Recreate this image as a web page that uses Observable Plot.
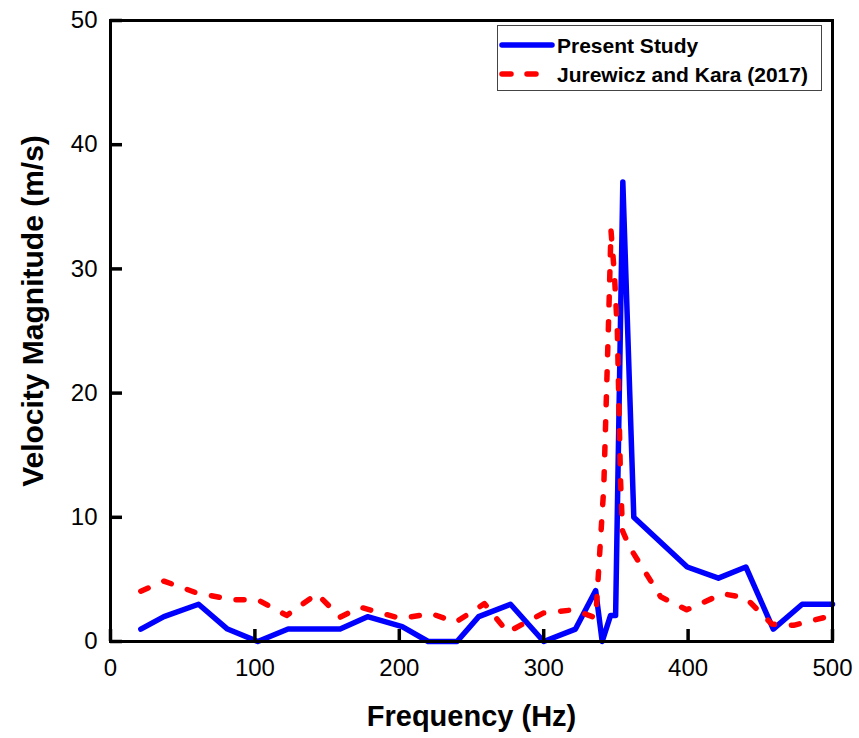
<!DOCTYPE html>
<html><head><meta charset="utf-8">
<script src="https://cdn.jsdelivr.net/npm/d3@7"></script>
<script src="https://cdn.jsdelivr.net/npm/@observablehq/plot@0.6"></script>
<style>
body{margin:0;background:#fff;font-family:"Liberation Sans",Arial,sans-serif;}
#wrap{position:relative;width:859px;height:738px;}
#legend{position:absolute;left:497px;top:25px;width:325px;height:66px;border:1px solid #444;background:#fff;box-sizing:border-box;}
#legend svg{display:block;}
</style></head><body><div id="wrap"></div>
<script>
// Present Study (blue solid)
const presentFreq = [21,37,61,81,102,123,159,178,202,220,240,255,277,300,322,336,340.5,346.3,349.8,354.8,362.4,399.4,421,440,459,479,500];
const presentVel  = [1,2,3,1,0,1,1,2,1.2,0,0,2,3,0,1,4.1,0,2.1,2.1,37,10,6,5.1,6,1,3,3];
// Jurewicz and Kara (2017) (red dashed)
const jkFreq = [21,37,60,85,102,122,143,159,173,201,222,239,259,275,300,321,336,341.6,345.1,346.6,349,351,353.2,354.6,360,381,399,424,440,458,473,500];
const jkVel  = [4.05,4.86,3.9,3.36,3.36,2.1,3.84,1.96,2.76,1.85,2.25,1.55,3.05,0.75,2.3,2.55,1.9,12.4,26.5,33.1,29.5,25,13,8.9,7.5,3.6,2.55,3.85,3.5,1.4,1.3,2.1];
const xTicks = [0,100,200,300,400,500];
const yTicks = [0,10,20,30,40,50];
const seriesNames = ["Present Study","Jurewicz and Kara (2017)"];
const seriesColors = ["#0000ff","#ff0000"];
const xTitle = "Frequency (Hz)";
const yTitle = "Velocity Magnitude (m/s)";

const present = presentFreq.map((f,i)=>({f, v: presentVel[i]}));
const jk = jkFreq.map((f,i)=>({f, v: jkVel[i]}));
const FONT = '"Liberation Sans", Arial, sans-serif';
const W = 859, H = 738, MT = 20, MR = 27, MB = 97, ML = 110, TICK = 12;
const xDom = [0, 500], yDom = [0, 50];
// inward tick length expressed in data units of the other axis
const xTickLen = (yDom[1] - yDom[0]) * TICK / (H - MT - MB);
const yTickLen = (xDom[1] - xDom[0]) * TICK / (W - ML - MR);

const chart = Plot.plot({
  width: W, height: H,
  marginTop: MT, marginRight: MR, marginBottom: MB, marginLeft: ML,
  style: {fontFamily: FONT, fontSize: "24px", color: "black", background: "#fff", overflow: "visible"},
  x: {domain: xDom, label: null},
  y: {domain: yDom, label: null},
  marks: [
    Plot.line(present, {x:"f", y:"v", stroke: seriesColors[0], strokeWidth: 5.5, strokeLinejoin: "round", strokeLinecap: "round"}),
    Plot.line(jk, {x:"f", y:"v", stroke: seriesColors[1], strokeWidth: 5.5, strokeDasharray: "8,17", strokeLinecap: "round", strokeLinejoin: "round"}),
    Plot.frame({strokeWidth: 3, stroke: "black"}),
    Plot.ruleX(xTicks, {x: d => d, y1: yDom[0], y2: yDom[0] + xTickLen, stroke: "black", strokeWidth: 3.5}),
    Plot.ruleY(yTicks, {y: d => d, x1: xDom[0], x2: xDom[0] + yTickLen, stroke: "black", strokeWidth: 3.5}),
    Plot.axisX(xTicks, {tickSize: 0, tickPadding: 17, fontSize: 24}),
    Plot.axisY(yTicks, {tickSize: 0, tickPadding: 13, fontSize: 24}),
    Plot.text([xTitle], {frameAnchor: "bottom", text: d => d, lineAnchor: "bottom", dy: 84, fontSize: 29, fontWeight: "bold"}),
    Plot.text([yTitle], {frameAnchor: "left", text: d => d, rotate: -90, textAnchor: "middle", lineAnchor: "bottom", dx: -68, dy: -20, fontSize: 30, fontWeight: "bold"})
  ]
});
const wrap = document.getElementById("wrap");
wrap.appendChild(chart);

const legend = document.createElement("div");
legend.id = "legend";
const ns = "http://www.w3.org/2000/svg";
const lsvg = document.createElementNS(ns, "svg");
lsvg.setAttribute("width", 323); lsvg.setAttribute("height", 64);
seriesNames.forEach((name, i) => {
  const y = 19 + i * 29;
  const ln = document.createElementNS(ns, "line");
  ln.setAttribute("x1", 4); ln.setAttribute("x2", 54);
  ln.setAttribute("y1", y); ln.setAttribute("y2", y);
  ln.setAttribute("stroke", seriesColors[i]);
  ln.setAttribute("stroke-width", 5.5);
  ln.setAttribute("stroke-linecap", "round");
  if (i === 1) ln.setAttribute("stroke-dasharray", "9,16");
  lsvg.appendChild(ln);
  const t = document.createElementNS(ns, "text");
  t.setAttribute("x", 59); t.setAttribute("y", y + 8);
  t.setAttribute("font-family", FONT);
  t.setAttribute("font-size", 21);
  t.setAttribute("font-weight", "bold");
  t.textContent = name;
  lsvg.appendChild(t);
});
legend.appendChild(lsvg);
wrap.appendChild(legend);
</script>
</body></html>
